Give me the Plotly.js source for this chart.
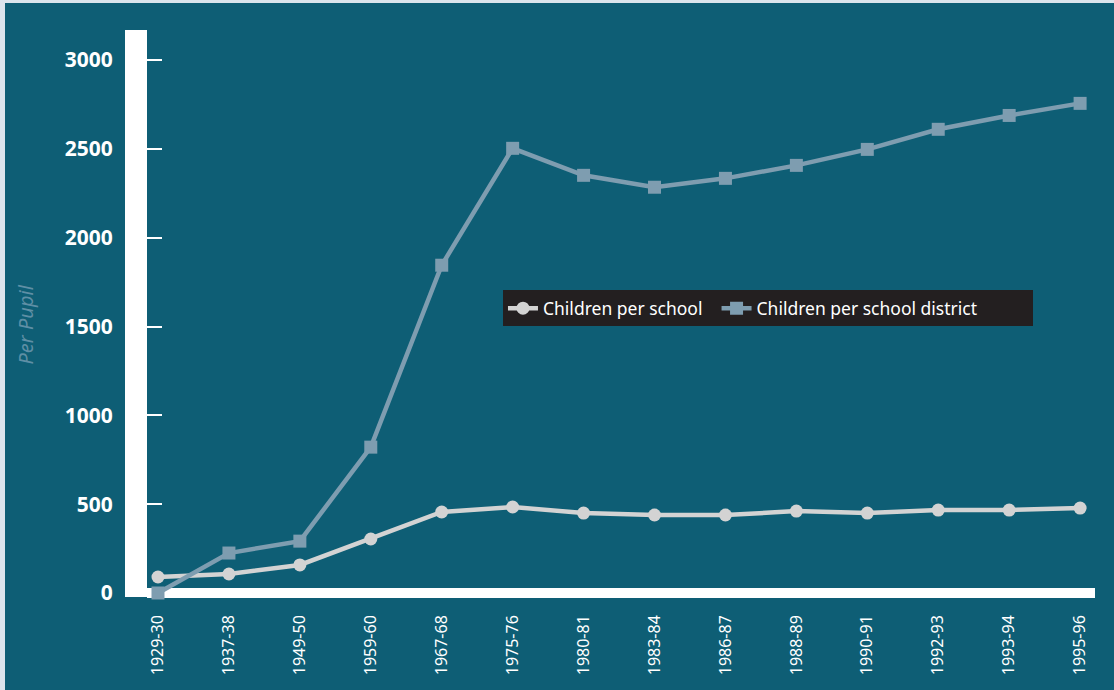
<!DOCTYPE html>
<html><head><meta charset="utf-8">
<script src="https://cdn.plot.ly/plotly-3.0.1.min.js"></script>
<style>
html,body{margin:0;padding:0;background:#dce5ed;width:1114px;height:690px;overflow:hidden}
#chart{position:absolute;left:5px;top:3px;width:1109px;height:687px}
</style></head><body>
<div id="chart"></div>
<script>
const years = ["1929-30","1937-38","1949-50","1959-60","1967-68","1975-76","1980-81","1983-84","1986-87","1988-89","1990-91","1992-93","1993-94","1995-96"];
const perSchool = [90,107,158,304,456,484,450,439,439,461,450,467,467,478];
const perDistrict = [0,225,292,821,1845,2503,2351,2284,2334,2407,2497,2610,2688,2756];
const yTicks = [0,500,1000,1500,2000,2500,3000];
const seriesNames = ["Children per school", "Children per school district"];
const yTitle = "Per Pupil";

const font = "Noto Sans, Open Sans, sans-serif";
const traces = [
  {x: years, y: perSchool, name: seriesNames[0] + "\u00a0\u00a0", type: "scatter", mode: "lines+markers",
   line: {color: "#d3d3d3", width: 4.5}, marker: {symbol: "circle", size: 13, color: "#d3d3d3"}, cliponaxis: false},
  {x: years, y: perDistrict, name: seriesNames[1] + "\u00a0".repeat(11), type: "scatter", mode: "lines+markers",
   line: {color: "#7e9db0", width: 4.5}, marker: {symbol: "square", size: 13, color: "#7e9db0"}, cliponaxis: false}
];
const layout = {
  width: 1109, height: 687,
  paper_bgcolor: "#0e5e75", plot_bgcolor: "#0e5e75",
  margin: {l: 142, r: 19, t: 27, b: 93},
  showlegend: true,
  legend: {orientation: "h", x: 0.3755, y: 0.541, xanchor: "left", yanchor: "top",
           bgcolor: "#231f20", font: {family: font, size: 17.5, color: "#ffffff"}, itemwidth: 30},
  xaxis: {type: "category", range: [-0.155, 13.21], showgrid: false, showline: false, zeroline: false,
          ticks: "", tickangle: -90, ticklabelstandoff: 14,
          tickfont: {family: font, size: 16, color: "#ffffff"}, layer: "below traces"},
  yaxis: {range: [-22.5, 3169], tickvals: yTicks, showgrid: false,
          showline: true, linecolor: "#ffffff", linewidth: 22,
          zeroline: true, zerolinecolor: "#ffffff", zerolinewidth: 10,
          ticks: "inside", ticklen: 15, tickwidth: 2, tickcolor: "#ffffff", ticklabelstandoff: 8,
          tickfont: {family: font, size: 21, color: "#ffffff", weight: "bold"},
          layer: "below traces"},
  annotations: [{text: yTitle, xref: "paper", yref: "paper", x: -0.128, y: 0.48,
                 xanchor: "center", yanchor: "middle", textangle: -90, showarrow: false,
                 font: {family: font, size: 20, color: "#5f8fa5", style: "italic"}}]
};
Plotly.newPlot("chart", traces, layout, {displayModeBar: false, staticPlot: true});
</script>
</body></html>
